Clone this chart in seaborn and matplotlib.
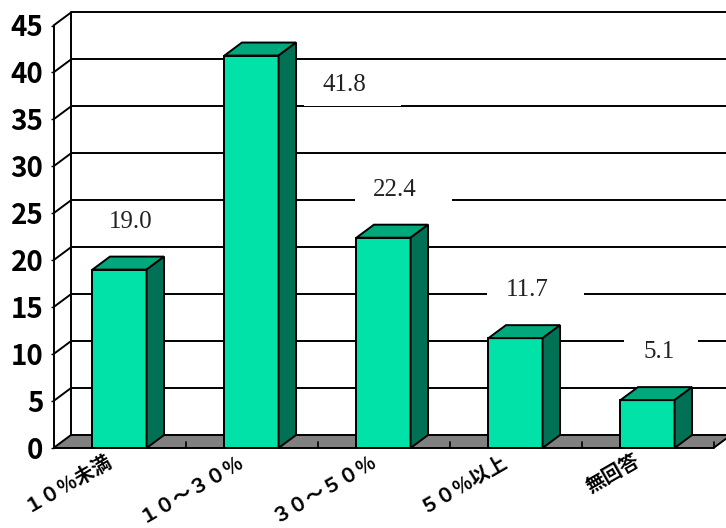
import numpy as np
import pandas as pd
import matplotlib
matplotlib.use("Agg")
import matplotlib.pyplot as plt
import seaborn as sns
from matplotlib.patches import Polygon, Rectangle

# ---- data ----
categories = ["１０％未満", "１０～３０％", "３０～５０％", "５０％以上", "無回答"]
values = [19.0, 41.8, 22.4, 11.7, 5.1]
value_labels = ["19.0", "41.8", "22.4", "11.7", "5.1"]
y_ticks = [0, 5, 10, 15, 20, 25, 30, 35, 40, 45]

# ---- style ----
FRONT = "#00E2A8"
TOP = "#00A87C"
SIDE = "#007155"
FLOOR = "#808080"
LW = 1.4

sns.set_theme(style="white")
plt.rcParams["font.family"] = ["Noto Sans CJK JP", "DejaVu Sans"]

W, H = 726, 528
fig = plt.figure(figsize=(W / 100, H / 100), dpi=100)
fig.patch.set_facecolor("white")

left_px, right_px, bottom_px, top_px = 53.5, 713.5, 448, 25.5
ax = fig.add_axes([left_px / W, (H - bottom_px) / H,
                   (right_px - left_px) / W, (bottom_px - top_px) / H])
ax.set_facecolor("none")

n = len(categories)
ymax = y_ticks[-1]
px_x = (right_px - left_px) / n
px_y = (bottom_px - top_px) / ymax
dx = 17.5 / px_x
dy = 13.0 / px_y

df = pd.DataFrame({"cat": categories, "val": values})
sns.barplot(data=df, x="cat", y="val", color=FRONT, saturation=1,
            width=0.41, edgecolor="black", linewidth=LW, errorbar=None, ax=ax)

ax.set_xlim(-0.5, n - 0.5)
ax.set_ylim(0, ymax)

# floor
x_l, x_r = -0.5, n - 0.5
ax.add_patch(Polygon([(x_l, 0), (x_r, 0), (x_r + dx, dy), (x_l + dx, dy)],
                     closed=True, facecolor=FLOOR, edgecolor="black",
                     linewidth=LW, zorder=1, clip_on=False))
# floor ticks at category boundaries
for k in range(1, n + 1):
    ax.plot([k - 0.5, k - 0.5], [0, 6 / px_y], color="black", lw=1.2,
            zorder=1.2, clip_on=False)

# walls: gridlines on back wall + connectors on left wall
for v in y_ticks[1:]:
    ax.plot([x_l + dx, x_r + 1], [v + dy, v + dy], color="black", lw=LW,
            zorder=1, clip_on=False, solid_capstyle="butt")
    ax.plot([x_l, x_l + dx], [v, v + dy], color="black", lw=LW,
            zorder=1, clip_on=False)
ax.plot([x_l + dx, x_l + dx], [dy, ymax + dy], color="black", lw=LW,
        zorder=1, clip_on=False)
ax.plot([x_l, x_l], [0, ymax], color="black", lw=LW, zorder=1.3,
        clip_on=False)

# 3D faces of bars
for p in ax.patches:
    if not isinstance(p, Rectangle):
        continue
    x0, w, h = p.get_x(), p.get_width(), p.get_height()
    p.set_zorder(3)
    ax.add_patch(Polygon([(x0, h), (x0 + w, h), (x0 + w + dx, h + dy),
                          (x0 + dx, h + dy)], closed=True, facecolor=TOP,
                         edgecolor="black", linewidth=LW, zorder=3,
                         clip_on=False, joinstyle="miter"))
    ax.add_patch(Polygon([(x0 + w, 0), (x0 + w + dx, dy),
                          (x0 + w + dx, h + dy), (x0 + w, h)], closed=True,
                         facecolor=SIDE, edgecolor="black", linewidth=LW,
                         zorder=3, clip_on=False, joinstyle="miter"))

# data labels with white boxes
box_h = 42 / px_y
for i, (v, lab) in enumerate(zip(values, value_labels)):
    if v + 5.2 + 2.5 > ymax:
        tx, ty = i + 0.70, v - 3.1
    else:
        tx, ty = i + 11.5 / px_x, v + 5.1
    nc = len(lab)
    bw = (23 * nc + 5) / px_x
    boff = (5.65 * nc - 14.5) / px_x
    ax.add_patch(Rectangle((tx + boff - bw / 2, ty - box_h / 2), bw, box_h,
                           facecolor="white", edgecolor="none", zorder=2,
                           clip_on=False))
    ax.text(tx, ty, lab, ha="center", va="center", fontsize=18,
            family=["Liberation Serif", "DejaVu Serif"], color="#222222",
            zorder=4, clip_on=False)

# category labels
for i, c in enumerate(categories):
    ax.text(i - 14 / px_x, -3 / px_y, c, rotation=30, rotation_mode="anchor",
            ha="right", va="top", fontsize=14, fontweight="bold",
            color="black", clip_on=False)

ax.set_xticks([])
ax.set_yticks(y_ticks)
ax.set_yticklabels([str(t) for t in y_ticks])
ax.tick_params(axis="y", length=2.2, width=1.0, color="black", pad=5,
               labelsize=20, labelcolor="black", left=True)
for t in ax.get_yticklabels():
    t.set_fontweight("bold")
ax.set_xlabel("")
ax.set_ylabel("")
for s in ax.spines.values():
    s.set_visible(False)

fig.savefig("out.png", dpi=100, facecolor="white")
